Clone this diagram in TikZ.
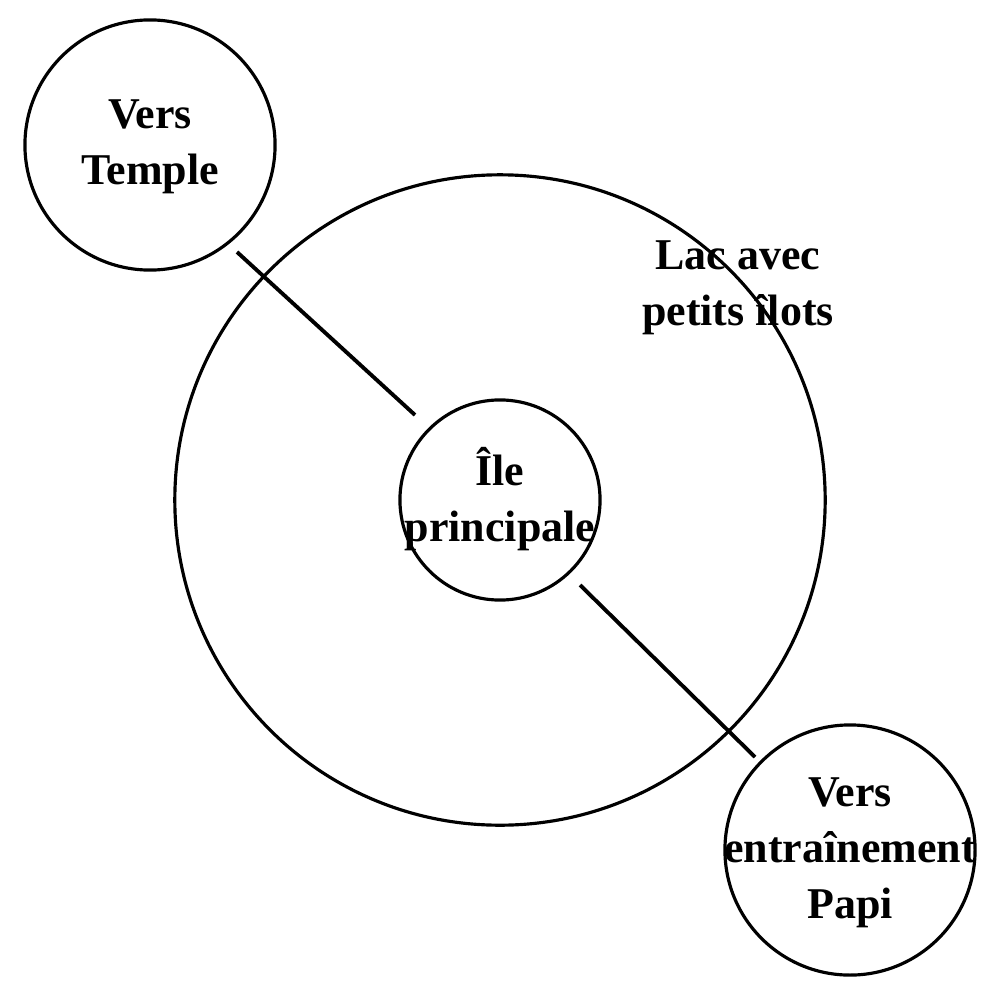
\documentclass[tikz,border=0pt]{standalone}
\usepackage{fontspec}
\setmainfont{Liberation Serif}
\begin{document}
\begin{tikzpicture}[x=0.01cm,y=-0.01cm,
  ring/.style={circle,draw,line width=0.9pt,inner sep=0pt},
  lbl/.style={font=\bfseries\fontsize{12.5}{16}\selectfont,align=center,text=black},
  link/.style={line width=1.1pt}]
\useasboundingbox (0,0) rectangle (1000,1000);
\node[ring,minimum size=6.5cm] (lake) at (500,500) {};
\node[ring,minimum size=2cm] (isle) at (500,500) {};
\node[ring,minimum size=2.5cm] (temple) at (150,145) {};
\node[ring,minimum size=2.5cm] (papi) at (850,850) {};
\node[lbl] (tlbl) at (150,147) {Vers\\Temple};
\node[lbl] (ilbl) at (500,499) {Île\\principale};
\node[lbl] (llbl) at (738,288) {Lac avec\\petits îlots};
\node[lbl] (plbl) at (850,853) {Vers\\entraînement\\Papi};
\coordinate (a1) at (237,252);
\coordinate (a2) at (415,415);
\coordinate (b1) at (580,585);
\coordinate (b2) at (755,757);
\draw[link] (a1) -- (a2);
\draw[link] (b1) -- (b2);
\end{tikzpicture}
\end{document}
